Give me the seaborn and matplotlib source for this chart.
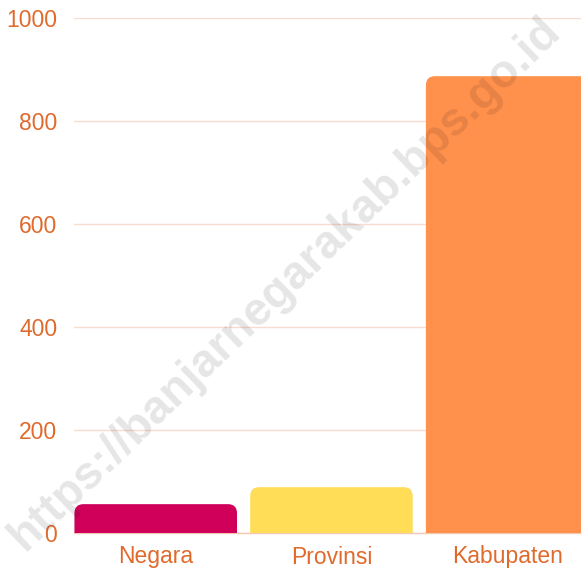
import matplotlib
matplotlib.use("Agg")
import matplotlib.pyplot as plt
import seaborn as sns
import pandas as pd
from matplotlib.path import Path
from matplotlib.patches import PathPatch

categories = ["Negara", "Provinsi", "Kabupaten"]
values = [56, 89, 887]
colors = ["#D0005A", "#FFDD57", "#FF914D"]

sns.set_theme(style="white")
plt.rcParams['font.family'] = ['Liberation Sans', 'DejaVu Sans']

df = pd.DataFrame({"cat": categories, "val": values})

fig = plt.figure(figsize=(5.81, 5.68), dpi=100)
ax = fig.add_axes([74/581, 1-533/568, 1-74/581, (533-18)/568])

sns.barplot(data=df, x="cat", y="val", hue="cat", palette=colors, width=0.925,
            legend=False, ax=ax, saturation=1)

ax.set_ylim(0, 1000)
ax.set_xlim(-0.465, 2.42)

# replace bars with rounded-top bars
px_per_x = (581 - 74) / (2.42 + 0.465)
px_per_y = 515 / 1000
r_px = 9
rx = r_px / px_per_x
ry = r_px / px_per_y
for p in list(ax.patches):
    x, w, h = p.get_x(), p.get_width(), p.get_height()
    fc = p.get_facecolor()
    p.remove()
    verts = [(x, 0), (x, h - ry), (x, h), (x + rx, h), (x + w - rx, h),
             (x + w, h), (x + w, h - ry), (x + w, 0), (x, 0)]
    codes = [Path.MOVETO, Path.LINETO, Path.CURVE3, Path.CURVE3, Path.LINETO,
             Path.CURVE3, Path.CURVE3, Path.LINETO, Path.CLOSEPOLY]
    ax.add_patch(PathPatch(Path(verts, codes), facecolor=fc, edgecolor="none",
                           zorder=3))

ax.set_yticks([0, 200, 400, 600, 800, 1000])
ax.yaxis.grid(True, color="#F9DCD0", linewidth=1, zorder=0)
ax.set_axisbelow(True)
for s in ["top", "right", "left"]:
    ax.spines[s].set_visible(False)
ax.spines["bottom"].set_color("#F3C9B5")
ax.spines["bottom"].set_linewidth(1)
ax.tick_params(axis="y", length=0, pad=12, labelsize=16.5, labelcolor="#E06A2C")
ax.tick_params(axis="x", length=0, pad=9, labelsize=16.5, labelcolor="#E06A2C")
ax.set_xlabel("")
ax.set_ylabel("")

fig.text(0.49, 0.5, "https://banjarnegarakab.bps.go.id", rotation=44,
         fontsize=33.5, fontweight="bold", color="#000000", alpha=0.1,
         ha="center", va="center", family=["Liberation Sans", "DejaVu Sans"])

fig.savefig("out.png", dpi=100)
